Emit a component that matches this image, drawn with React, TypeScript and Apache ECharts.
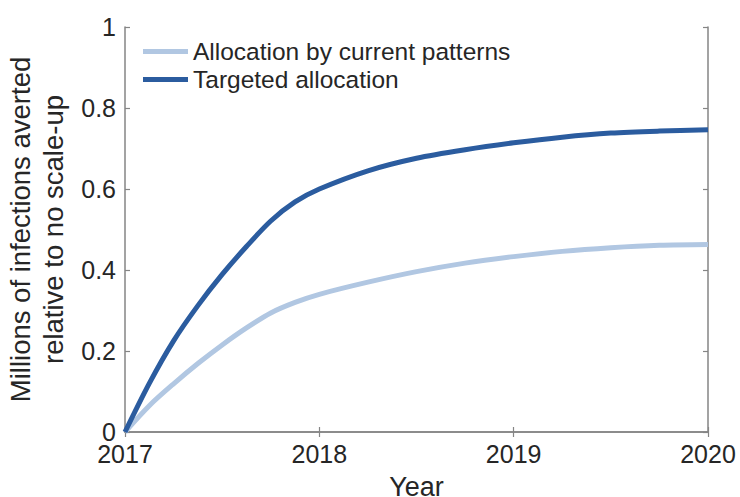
import React, { useEffect, useRef } from "react";
import * as echarts from "echarts";

const years = [2017, 2017.125, 2017.25, 2017.375, 2017.5, 2017.625, 2017.75, 2017.875, 2018, 2018.25, 2018.5, 2018.75, 2019, 2019.25, 2019.5, 2019.75, 2020];
const currentPatterns = [0, 0.065, 0.119, 0.169, 0.215, 0.257, 0.294, 0.32, 0.34, 0.37, 0.396, 0.417, 0.433, 0.446, 0.455, 0.461, 0.463];
const targeted = [0, 0.12, 0.225, 0.312, 0.389, 0.458, 0.521, 0.568, 0.6, 0.645, 0.676, 0.697, 0.714, 0.728, 0.738, 0.743, 0.746];
const seriesNames = ["Allocation by current patterns", "Targeted allocation"];
const xTicks = [2017, 2018, 2019, 2020];
const yTicks = ["0", "0.2", "0.4", "0.6", "0.8", "1"];

const FONT = "'Liberation Sans', Arial, Helvetica, sans-serif";
const TEXT = "#262626";
const AXIS = "#858585";

export default function App() {
  const ref = useRef<HTMLDivElement>(null);
  useEffect(() => {
    document.body.style.margin = "0";
    const chart = echarts.init(ref.current!, null, { renderer: "svg" });
    const axisLine = { show: true, lineStyle: { color: AXIS, width: 1.5 } };
    const tick = { show: true, inside: true, length: 5, lineStyle: { color: AXIS, width: 1.2 } };
    chart.setOption({
      animation: false,
      textStyle: { fontFamily: FONT },
      grid: { left: 125, right: 32, top: 27, bottom: 65, containLabel: false, outerBoundsMode: "none" },
      legend: {
        left: 143,
        top: 39,
        padding: 0,
        orient: "vertical",
        icon: "rect",
        itemWidth: 45,
        itemHeight: 5,
        itemGap: 3,
        data: seriesNames,
        textStyle: { fontFamily: FONT, fontSize: 24.5, color: TEXT, lineHeight: 24 },
      },
      xAxis: [
        {
          type: "value",
          min: xTicks[0],
          max: xTicks[xTicks.length - 1],
          interval: 1,
          name: "Year",
          nameLocation: "middle",
          nameGap: 41,
          nameTextStyle: { fontFamily: FONT, fontSize: 27, color: TEXT },
          axisLine,
          axisTick: tick,
          splitLine: { show: false },
          axisLabel: { fontFamily: FONT, fontSize: 25, color: TEXT, margin: 9, formatter: (v: number) => String(v) },
        },
        {
          type: "value",
          position: "top",
          min: xTicks[0],
          max: xTicks[xTicks.length - 1],
          interval: 1,
          axisLine,
          axisTick: tick,
          splitLine: { show: false },
          axisLabel: { show: false },
        },
      ],
      yAxis: [
        {
          type: "value",
          min: 0,
          max: 1,
          interval: 0.2,
          name: "Millions of infections averted\nrelative to no scale-up",
          nameLocation: "middle",
          nameGap: 55,
          nameRotate: 90,
          nameTextStyle: { fontFamily: FONT, fontSize: 27.5, color: TEXT, lineHeight: 33 },
          axisLine,
          axisTick: tick,
          splitLine: { show: false },
          axisLabel: {
            fontFamily: FONT,
            fontSize: 25,
            color: TEXT,
            margin: 9,
            formatter: (v: number) => yTicks[Math.round(v * 5)] ?? String(v),
          },
        },
        {
          type: "value",
          position: "right",
          min: 0,
          max: 1,
          interval: 0.2,
          axisLine,
          axisTick: tick,
          splitLine: { show: false },
          axisLabel: { show: false },
        },
      ],
      series: [
        {
          name: seriesNames[0],
          type: "line",
          data: years.map((y, i) => [y, currentPatterns[i]]),
          smooth: 0.3,
          showSymbol: false,
          symbol: "none",
          itemStyle: { color: "#b1c7e2" },
          lineStyle: { color: "#b1c7e2", width: 5 },
        },
        {
          name: seriesNames[1],
          type: "line",
          data: years.map((y, i) => [y, targeted[i]]),
          smooth: 0.3,
          showSymbol: false,
          symbol: "none",
          itemStyle: { color: "#2b5c9f" },
          lineStyle: { color: "#2b5c9f", width: 5 },
        },
      ],
    });
    return () => chart.dispose();
  }, []);
  return <div ref={ref} style={{ position: "absolute", left: 0, top: 0, width: 740, height: 497 }} />;
}
